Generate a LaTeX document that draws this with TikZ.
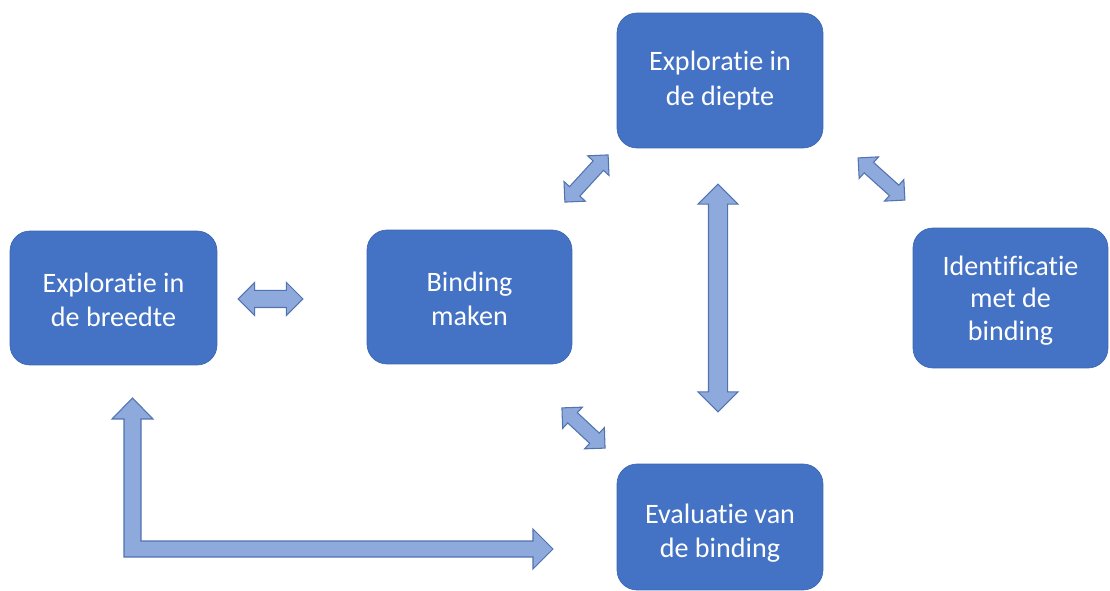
\documentclass[tikz,border=0pt]{standalone}
\usepackage{fontspec}
\setmainfont{Carlito}[Ligatures=NoCommon]
\usetikzlibrary{shapes.arrows}
\definecolor{boxblue}{HTML}{4472C4}
\definecolor{arrowfill}{HTML}{8EA9DB}
\definecolor{arrowline}{HTML}{5173B0}
\tikzset{
  stepbox/.style={rectangle, rounded corners=0.4cm, fill=boxblue, draw=boxblue!90!black, line width=0.4pt,
    text=white, align=center, font=\fontsize{16}{19.5}\selectfont, inner sep=0pt},
  blockarrow/.style={double arrow, fill=arrowfill, draw=arrowline, line width=0.6pt, inner xsep=0pt,
    double arrow tip angle=90},
  lshape/.style={fill=arrowfill, draw=arrowline, line width=0.6pt, line join=miter}
}
\begin{document}
\begin{tikzpicture}[x=0.02cm, y=-0.02cm]
\useasboundingbox (0,0) rectangle (1110,591);
% boxes
\node[stepbox, minimum width=4.14cm, minimum height=2.68cm] (breedte) at (113.5,298) {\rule{0pt}{13.5pt}Exploratie in\\de breedte};
\node[stepbox, minimum width=4.10cm, minimum height=2.68cm] (binding) at (469.5,297) {\rule{0pt}{13.5pt}Binding\\maken};
\node[stepbox, minimum width=4.12cm, minimum height=2.70cm] (diepte) at (720,80.5) {Exploratie in\\de diepte};
\node[stepbox, minimum width=3.90cm, minimum height=2.80cm, font=\fontsize{16}{18.5}\selectfont] (ident) at (1010.5,298) {\rule{0pt}{14pt}Identificatie\\met de\\binding};
\node[stepbox, minimum width=4.12cm, minimum height=2.52cm] (eval) at (720,527) {\rule{0pt}{18.5pt}Evaluatie van\\de binding};
% block arrows
\node[blockarrow, minimum height=1.30cm, inner ysep=0.16cm, double arrow head extend=0.16cm] (a1) at (270.5,299) {};
\node[blockarrow, minimum height=4.56cm, inner ysep=0.18cm, double arrow head extend=0.21cm, rotate=90] (a2) at (718,298) {};
\node[blockarrow, minimum height=1.28cm, inner ysep=0.13cm, double arrow head extend=0.15cm, rotate=47.5] (a3) at (586.5,178.5) {};
\node[blockarrow, minimum height=1.26cm, inner ysep=0.13cm, double arrow head extend=0.15cm, rotate=-42] (a4) at (881.5,179) {};
\node[blockarrow, minimum height=1.18cm, inner ysep=0.13cm, double arrow head extend=0.15cm, rotate=-43] (a5) at (583.5,428) {};
% L-shaped arrow
\coordinate (ltop) at (132.5,398);
\coordinate (lright) at (553,549);
\draw[lshape] (ltop) -- (153,419) -- (141,419) -- (141,541) -- (533,541) -- (533,529) -- (lright)
  -- (533,569) -- (533,557) -- (124,557) -- (124,419) -- (112,419) -- cycle;
\end{tikzpicture}
\end{document}
